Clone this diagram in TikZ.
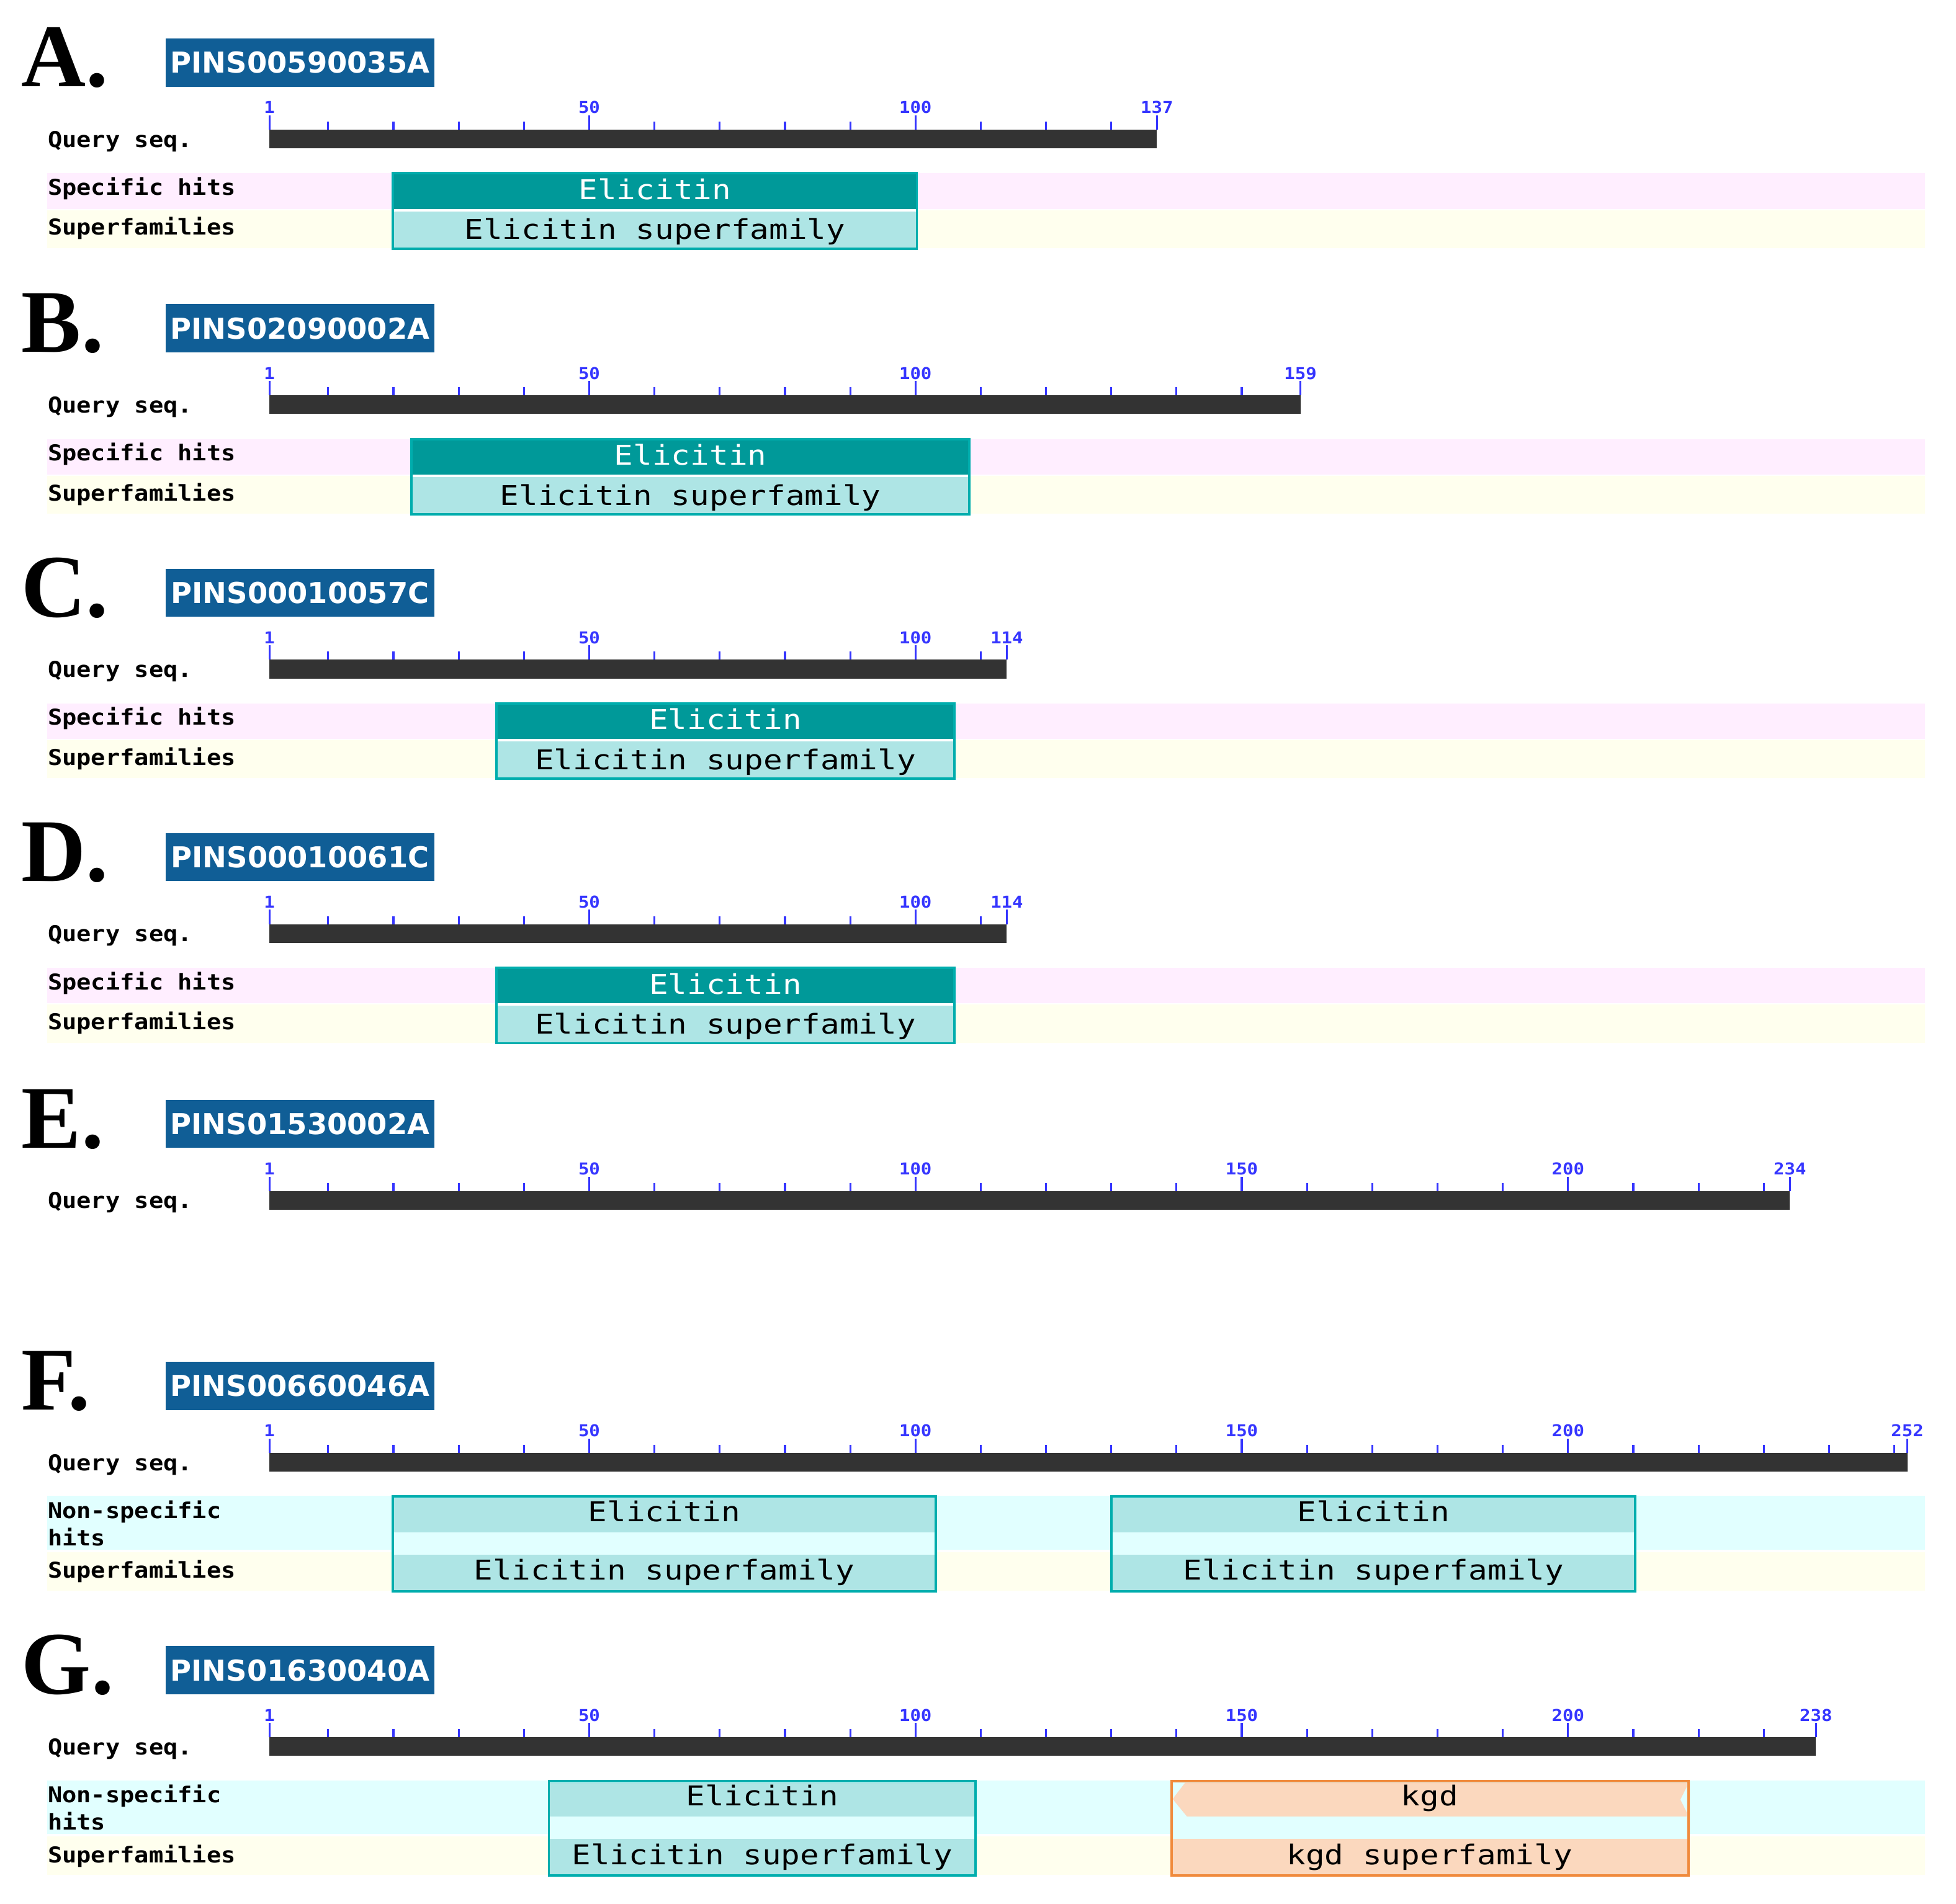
\documentclass[tikz,border=0pt]{standalone}
\usepackage{fontspec}
\newfontfamily\letterfont{Liberation Serif}
\newfontfamily\idfont{DejaVu Sans}
\newfontfamily\labelfont{DejaVu Sans Mono}[FakeStretch=1.1]
\newfontfamily\domfont{DejaVu Sans Mono}[FakeStretch=1.16]
\definecolor{idblue}{HTML}{105E96}
\definecolor{hitteal}{HTML}{009999}
\definecolor{tealedge}{HTML}{00ADAD}
\definecolor{famcyan}{HTML}{AEE5E5}
\definecolor{pinkrow}{HTML}{FFEEFF}
\definecolor{yellowrow}{HTML}{FFFFEE}
\definecolor{cyanrow}{HTML}{E1FFFF}
\definecolor{kgdfill}{HTML}{FBD8BE}
\definecolor{kgdedge}{HTML}{F08A3C}
\definecolor{rulerblue}{HTML}{3535FF}
\definecolor{seqbar}{HTML}{333333}

% x position of residue #1
\newcommand{\rx}[1]{216+(#1-1)*5.231}

% panel head: letter, id box, query ruler
% #1 name, #2 letter, #3 id, #4 top, #5 length
\newcommand{\seqpanel}[5]{%
  \node[panelletter] (#1-letter) at (17,#4+38.5) {#2.};
  \node[idbox] (#1-id) at (240.5,#4+19.25) {#3};
  \node[rowlabel] (#1-query) at (38,#4+87) {Query seq.};
  \fill[seqbar] (216,#4+73) rectangle ({\rx{#5}},#4+88);
  \draw[tick] (216,#4+61.5) -- (216,#4+73);
  \node[ticklabel] (#1-t1) at (216,#4+60) {1};
  \foreach \r in {10,20,...,#5} {
    \pgfmathtruncatemacro{\ismajor}{(mod(\r,50)==0) && (\r<#5-9.5)}
    \ifnum\ismajor=1
      \draw[tick] ({\rx{\r}},#4+61.5) -- ({\rx{\r}},#4+73);
      \node[ticklabel] (#1-t\r) at ({\rx{\r}},#4+60) {\r};
    \else
      \draw[tick] ({\rx{\r}},#4+66.5) -- ({\rx{\r}},#4+73);
    \fi
  }
  \draw[tick] ({\rx{#5}},#4+61.5) -- ({\rx{#5}},#4+73);
  \node[ticklabel] (#1-t#5) at ({\rx{#5}},#4+60) {#5};
}

% specific hits rows: #1 name, #2 top
\newcommand{\specrows}[2]{%
  \fill[pinkrow] (38,#2+108) rectangle (1543,#2+136.5);
  \fill[yellowrow] (38,#2+137.5) rectangle (1543,#2+168);
  \node[rowlabel] (#1-spec) at (38,#2+125.5) {Specific hits};
  \node[rowlabel] (#1-sup) at (38,#2+157.5) {Superfamilies};
}

% specific hit: #1 name, #2 top, #3 x0, #4 x1
\newcommand{\spechit}[4]{%
  \fill[hitteal] (#3,#2+108) rectangle (#4,#2+136.5);
  \fill[white] (#3,#2+136.5) rectangle (#4,#2+138.5);
  \fill[famcyan] (#3,#2+138.5) rectangle (#4,#2+168.5);
  \draw[boxedge=tealedge] (#3,#2+108) rectangle (#4,#2+168.5);
  \node[domtext, text=white] (#1-hit) at ({(#3+#4)/2},#2+129) {Elicitin};
  \node[domtext] (#1-fam) at ({(#3+#4)/2},#2+161) {Elicitin superfamily};
}

% non-specific hits rows: #1 name, #2 top
\newcommand{\nonspecrows}[2]{%
  \fill[cyanrow] (38,#2+107.5) rectangle (1543,#2+150.5);
  \fill[yellowrow] (38,#2+152.5) rectangle (1543,#2+183.5);
  \node[rowlabel] (#1-nonspec) at (38,#2+125.5) {Non-specific};
  \node[rowlabel] (#1-hits) at (38,#2+147.5) {hits};
  \node[rowlabel] (#1-sup) at (38,#2+173.5) {Superfamilies};
}

% non-specific hit: #1 name, #2 top, #3 x0, #4 x1
\newcommand{\nonspechit}[4]{%
  \fill[famcyan] (#3,#2+109.5) rectangle (#4,#2+136.5);
  \fill[cyanrow] (#3,#2+136.5) rectangle (#4,#2+154.5);
  \fill[famcyan] (#3,#2+154.5) rectangle (#4,#2+183);
  \draw[boxedge=tealedge] (#3,#2+108) rectangle (#4,#2+184);
  \node[domtext] (#1-hit) at ({(#3+#4)/2},#2+128) {Elicitin};
  \node[domtext] (#1-fam) at ({(#3+#4)/2},#2+175) {Elicitin superfamily};
}

\begin{document}
\begin{tikzpicture}[x=0.020102cm, y=-0.020102cm,
  panelletter/.style={anchor=base west, inner sep=0,
    font=\letterfont\bfseries\fontsize{41}{41}\selectfont},
  idbox/.style={fill=idblue, text=white, inner sep=0,
    minimum width=4.322cm, minimum height=0.774cm,
    font=\idfont\bfseries\fontsize{13.2}{14}\selectfont},
  rowlabel/.style={anchor=base west, inner sep=0,
    font=\labelfont\bfseries\fontsize{10}{11}\selectfont},
  ticklabel/.style={anchor=base, inner sep=0, text=rulerblue,
    font=\labelfont\bfseries\fontsize{7.5}{7.5}\selectfont},
  tick/.style={rulerblue, line width=0.9pt},
  domtext/.style={anchor=base, inner sep=0,
    font=\domfont\fontsize{12.5}{13}\selectfont},
  boxedge/.style={draw=#1, line width=1.1pt}]

  \useasboundingbox (0,0) rectangle (1568,1526.7);

  % A
  \specrows{A}{31}
  \seqpanel{A}{A}{PINS00590035A}{31}{137}
  \spechit{A}{31}{315}{735}

  % B
  \specrows{B}{244}
  \seqpanel{B}{B}{PINS02090002A}{244}{159}
  \spechit{B}{244}{330}{777}

  % C
  \specrows{C}{456}
  \seqpanel{C}{C}{PINS00010057C}{456}{114}
  \spechit{C}{456}{398}{765}

  % D
  \specrows{D}{668}
  \seqpanel{D}{D}{PINS00010061C}{668}{114}
  \spechit{D}{668}{398}{765}

  % E (no hits)
  \seqpanel{E}{E}{PINS01530002A}{882}{234}

  % F
  \nonspecrows{F}{1092}
  \seqpanel{F}{F}{PINS00660046A}{1092}{252}
  \nonspechit{F1}{1092}{315}{750}
  \nonspechit{F2}{1092}{891}{1311}

  % G
  \nonspecrows{G}{1320}
  \seqpanel{G}{G}{PINS01630040A}{1320}{238}
  \nonspechit{G1}{1320}{440}{782}

  % kgd, truncated at both ends
  \fill[kgdfill] (950,1429.5) -- (1352,1429.5) -- (1352,1433) -- (1347,1443)
    -- (1352,1453) -- (1352,1456.5) -- (951.5,1456.5) -- (940,1442.5) -- cycle;
  \fill[cyanrow] (939,1456.5) rectangle (1353.4,1474.5);
  \fill[kgdfill] (939,1474.5) rectangle (1353.4,1503);
  \draw[boxedge=kgdedge] (939,1428) rectangle (1353.4,1504);
  \node[domtext] (G2-hit) at (1146,1448) {kgd};
  \node[domtext] (G2-fam) at (1146,1495) {kgd superfamily};
\end{tikzpicture}
\end{document}
